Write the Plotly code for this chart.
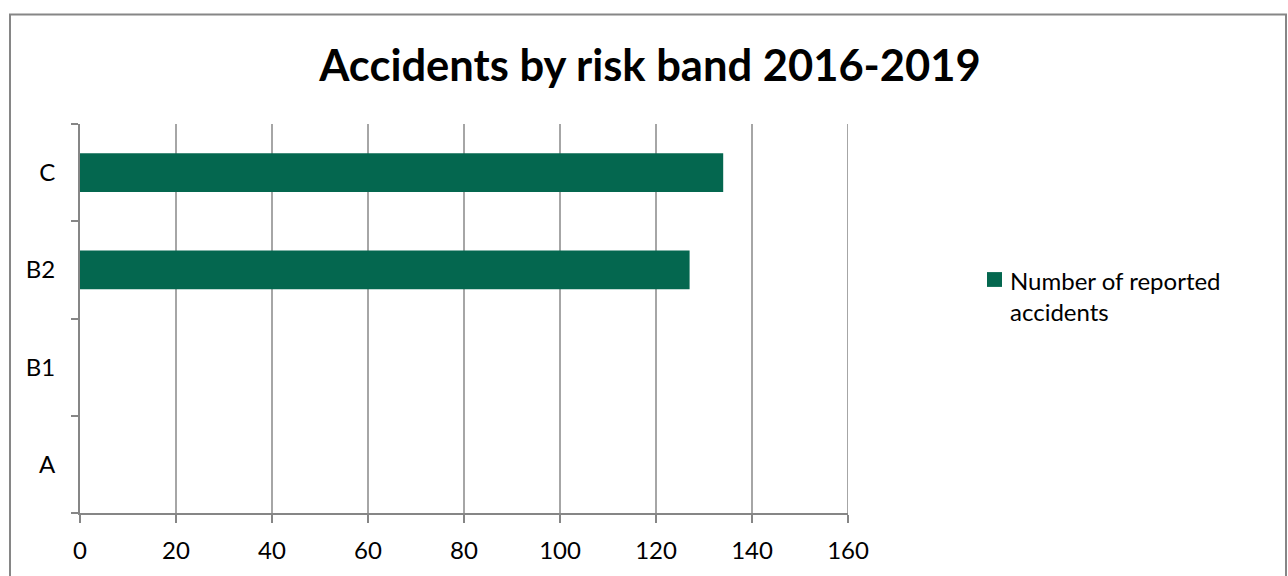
import plotly.graph_objects as go

# Risk bands (bottom to top) and reported accident counts, 2016-2019
bands = ["A", "B1", "B2", "C"]
accidents = [0, 0, 127, 134]
series_label = ["Number of reported", "accidents"]
x_ticks = [0, 20, 40, 60, 80, 100, 120, 140, 160]

BAR_COLOR = "#04674F"
AXIS_COLOR = "#868686"
GRID_COLOR = "#A6A6A6"
FONT = "Lato, 'Open Sans', sans-serif"

# Plot-area geometry in pixels (used to place the frame and legend in paper units)
PX_L, PX_R, PX_T, PX_B = 80, 848, 124, 518


def px_to_paper_x(px):
    return (px - PX_L) / (PX_R - PX_L)


def px_to_paper_y(py):
    return (PX_B - py) / (PX_B - PX_T)


fig = go.Figure(
    go.Bar(
        x=accidents,
        y=bands,
        orientation="h",
        name=" ".join(series_label),
        marker=dict(color=BAR_COLOR, line=dict(width=0)),
        showlegend=False,
    )
)

fig.update_layout(
    width=1288,
    height=576,
    margin=dict(l=PX_L, r=1288 - PX_R, t=PX_T, b=576 - PX_B),
    paper_bgcolor="white",
    plot_bgcolor="white",
    font=dict(family=FONT, size=24, color="#000000"),
    bargap=0.6,
    title=dict(
        text="<b>Accidents by risk band 2016-2019</b>",
        x=650 / 1288,
        xanchor="center",
        xref="container",
        y=1 - 66 / 576,
        yanchor="middle",
        yref="container",
        font=dict(family=FONT, size=43.5, color="#000000"),
    ),
    showlegend=False,
)

fig.update_xaxes(
    range=[0, 160],
    tickvals=x_ticks,
    ticktext=[str(v) for v in x_ticks],
    showgrid=True,
    gridcolor=GRID_COLOR,
    gridwidth=2,
    showline=True,
    linecolor=AXIS_COLOR,
    linewidth=2,
    ticks="outside",
    ticklen=8,
    tickwidth=2,
    tickcolor=AXIS_COLOR,
    ticklabelstandoff=7,
    zeroline=False,
    tickfont=dict(family=FONT, size=24, color="#000000"),
)

fig.update_yaxes(
    categoryorder="array",
    categoryarray=bands,
    showgrid=False,
    showline=True,
    linecolor=AXIS_COLOR,
    linewidth=2,
    ticks="outside",
    tickson="boundaries",
    ticklen=7,
    tickwidth=2,
    tickcolor=AXIS_COLOR,
    ticklabelstandoff=18,
    tickfont=dict(family=FONT, size=24, color="#000000"),
)

# Gridline at the end of the value range (plot edge)
fig.add_shape(
    type="line",
    xref="x",
    yref="paper",
    x0=x_ticks[-1],
    x1=x_ticks[-1],
    y0=0,
    y1=1,
    line=dict(color=GRID_COLOR, width=2),
    layer="below",
)

# Chart-area frame
fig.add_shape(
    type="rect",
    xref="paper",
    yref="paper",
    x0=px_to_paper_x(10),
    x1=px_to_paper_x(1286),
    y0=px_to_paper_y(600),
    y1=px_to_paper_y(13),
    line=dict(color=AXIS_COLOR, width=2),
    fillcolor="rgba(0,0,0,0)",
    layer="below",
)

# Legend: colour key and series label
fig.add_shape(
    type="rect",
    xref="paper",
    yref="paper",
    x0=px_to_paper_x(987),
    x1=px_to_paper_x(1002),
    y0=px_to_paper_y(289),
    y1=px_to_paper_y(274),
    line=dict(width=0),
    fillcolor=BAR_COLOR,
)
fig.add_annotation(
    xref="paper",
    yref="paper",
    x=px_to_paper_x(1008),
    y=px_to_paper_y(266),
    xanchor="left",
    yanchor="top",
    align="left",
    showarrow=False,
    text="<br>".join(series_label),
    font=dict(family=FONT, size=24, color="#000000"),
)

fig.write_html("out.html")
